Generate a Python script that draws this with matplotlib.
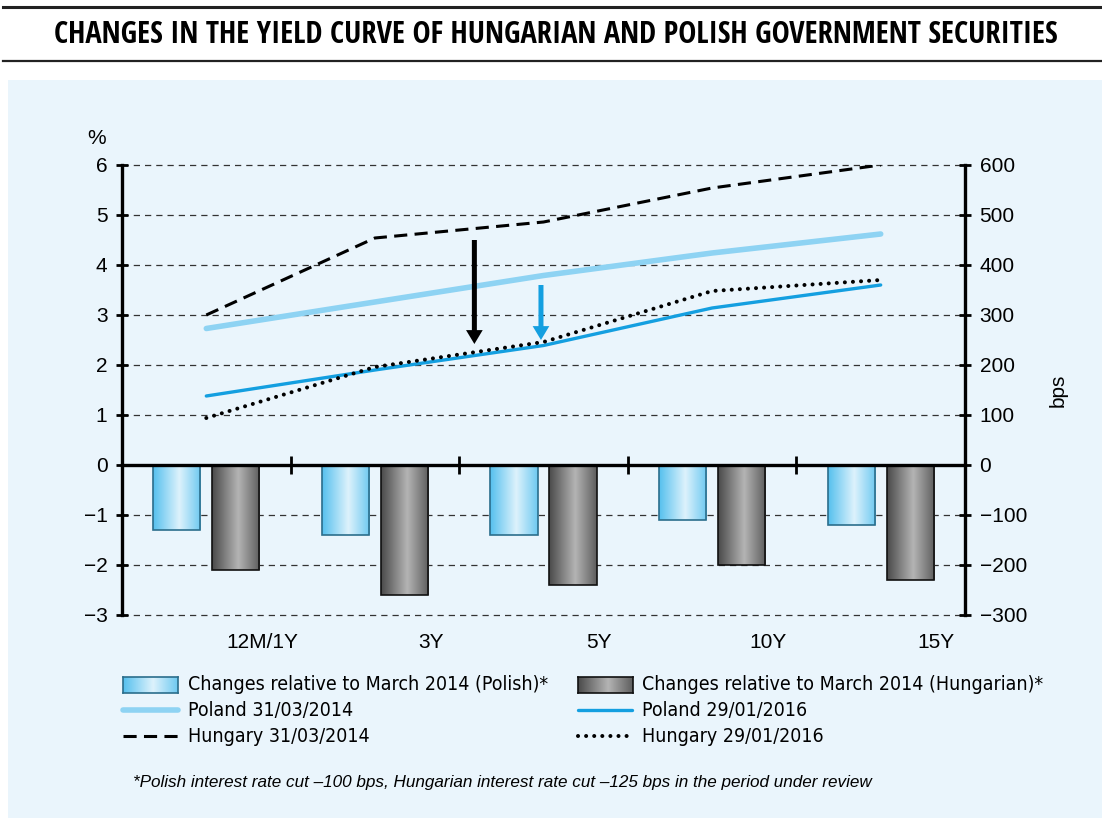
import numpy as np
import matplotlib
matplotlib.use("Agg")
import matplotlib.pyplot as plt
from matplotlib import font_manager
from matplotlib.font_manager import FontProperties
from matplotlib.patches import Rectangle
from matplotlib.lines import Line2D
import matplotlib.transforms as mtransforms

# ---------------- data ----------------
categories = ["12M/1Y", "3Y", "5Y", "10Y", "15Y"]
poland_2014 = [2.73, 3.26, 3.79, 4.24, 4.62]
hungary_2014 = [3.00, 4.54, 4.86, 5.54, 6.00]
poland_2016 = [1.38, 1.90, 2.39, 3.14, 3.60]
hungary_2016 = [0.94, 1.96, 2.46, 3.48, 3.70]
change_polish_bps = [-130, -140, -140, -110, -120]
change_hungarian_bps = [-210, -260, -240, -200, -230]
left_ticks = [-3, -2, -1, 0, 1, 2, 3, 4, 5, 6]
right_ticks = [-300, -200, -100, 0, 100, 200, 300, 400, 500, 600]
# arrows: (x position in category units, start value, end value)
arrow_black = (1.59, 4.50, 2.42)
arrow_blue = (1.985, 3.60, 2.50)

title = "CHANGES IN THE YIELD CURVE OF HUNGARIAN AND POLISH GOVERNMENT SECURITIES"
footnote = "*Polish interest rate cut \u2013100 bps, Hungarian interest rate cut \u2013125 bps in the period under review"

# ---------------- fonts ----------------
REG = "Liberation Sans"
plt.rcParams["font.family"] = [REG, "DejaVu Sans"]


def _w(f):
    return f.weight if isinstance(f.weight, int) else (700 if "bold" in str(f.weight).lower() else 400)


def is_cond(f):
    nm = f.name.lower()
    fn = f.fname.lower()
    return ("narrow" in nm or "condensed" in nm or "condensed" in fn or "narrow" in fn or
            str(f.stretch) in ("condensed", "semi-condensed", "extra-condensed", "ultra-condensed")
            or (isinstance(f.stretch, int) and f.stretch < 500))


def find_condensed(weight="normal", style="normal"):
    best = None
    for f in font_manager.fontManager.ttflist:
        nm = f.name.lower()
        if not is_cond(f) or "mono" in nm or "cjk" in nm:
            continue
        want_w = 700 if weight == "bold" else 400
        score = abs(_w(f) - want_w) + (0 if f.style == style else 1000)
        if best is None or score < best[0]:
            best = (score, f.fname)
    return best[1] if best else None


def fp(size, weight="normal", style="normal"):
    fn = find_condensed(weight, style)
    if fn:
        return FontProperties(fname=fn, size=size)
    return FontProperties(family=REG, size=size * 0.88, weight=weight, style=style)


BG = "#EAF5FC"
C_PL14 = "#8ED3F3"
C_PL16 = "#149FE0"

W, H = 1102, 818
fig = plt.figure(figsize=(W / 100, H / 100), dpi=100)
fig.patch.set_facecolor("white")
renderer = fig.canvas.get_renderer()

# background panel
fig.patches.append(Rectangle((8 / W, 0), 1 - 8 / W, 1 - 80 / H, transform=fig.transFigure,
                             facecolor=BG, edgecolor="none", zorder=-10))
# title rules
fig.add_artist(Line2D([3 / W, 1], [1 - 7 / H] * 2, color="#222222", lw=2.2, transform=fig.transFigure))
fig.add_artist(Line2D([3 / W, 1], [1 - 61 / H] * 2, color="#222222", lw=1.6, transform=fig.transFigure))

# title: pick the narrowest bold sans font available, then fit to the reference width
fams = ("liberation", "noto sans", "roboto", "open sans", "lato", "inter", "dejavu sans")
cands = []
for f in font_manager.fontManager.ttflist:
    nm = f.name.lower()
    if _w(f) >= 600 and f.style == "normal" and any(nm.startswith(k) for k in fams) \
            and "mono" not in nm and "cjk" not in nm and "serif" not in nm.replace("sans serif", ""):
        cands.append(f.fname)
best_fn, best_w = None, None
for fn in set(cands):
    try:
        t = fig.text(0, 0, title, fontproperties=FontProperties(fname=fn, size=22))
        wpx = t.get_window_extent(renderer).width
        t.remove()
    except Exception:
        continue
    if best_w is None or wpx < best_w:
        best_fn, best_w = fn, wpx
if best_fn is not None:
    tsize = min(22.0, 22.0 * 1008.0 / best_w)
    tfp = FontProperties(fname=best_fn, size=tsize)
else:
    tfp = FontProperties(family=REG, size=17.2, weight="bold")
fig.text(556 / W, 1 - 35 / H, title, ha="center", va="center", fontproperties=tfp, color="black")

ax = fig.add_axes([122 / W, 1 - 615 / H, (965 - 122) / W, (615 - 165) / H])
ax.set_facecolor("none")
ax.set_zorder(2)

x = np.arange(len(categories))

# grid
for v in left_ticks:
    if v != 0:
        ax.axhline(v, color="#333333", lw=0.9, ls=(0, (5, 4)), zorder=1, clip_on=False)


def grad_img(cols):
    g = np.linspace(0, 1, 256)
    prof = np.abs(g - 0.55) / 0.55
    cc = np.array([matplotlib.colors.to_rgb(c) for c in cols])
    return (cc[0] * (1 - prof[:, None]) + cc[1] * prof[:, None])[None, :, :]


PL_COLS = ["#DDF2FC", "#55C0EE"]
HU_COLS = ["#B4B4B4", "#4A4A4A"]


def grad_bar(xc, val, width, cols, edge):
    bar = ax.bar(xc, val, width=width, facecolor="none", edgecolor=edge, lw=1.2, zorder=4)[0]
    im = ax.imshow(grad_img(cols), extent=[xc - width / 2, xc + width / 2, val, 0], aspect="auto",
                   zorder=3, interpolation="bilinear")
    im.set_clip_path(bar)


bw = 0.28
for i in x:
    grad_bar(i - 0.175, change_polish_bps[i] / 100, bw, PL_COLS, "#2B6E8C")
    grad_bar(i + 0.175, change_hungarian_bps[i] / 100, bw, HU_COLS, "#111111")
ax.set_xlim(-0.5, 4.5)
ax.set_ylim(-3, 6)

DASH = (0, (4.3, 2.4))
DOT = (0, (0.01, 2.0))

# lines
ax.plot(x, poland_2014, color=C_PL14, lw=4.0, solid_capstyle="round", zorder=5)
ax.plot(x, poland_2016, color=C_PL16, lw=2.4, solid_capstyle="round", zorder=5)
ax.plot(x, hungary_2014, color="black", lw=2.2, ls=DASH, zorder=6)
ax.plot(x, hungary_2016, color="black", lw=2.9, ls=DOT, dash_capstyle="round", zorder=6)

# arrows
for (ax_x, y0, y1), col in [(arrow_black, "black"), (arrow_blue, C_PL16)]:
    ax.annotate("", xy=(ax_x, y1), xytext=(ax_x, y0),
                arrowprops=dict(arrowstyle="simple,head_width=0.6,head_length=0.5,tail_width=0.18",
                                mutation_scale=20, color=col, lw=0, shrinkA=0, shrinkB=0), zorder=7)

# spines
for s in ["top", "right"]:
    ax.spines[s].set_visible(False)
ax.spines["left"].set_linewidth(2.4)
ax.spines["bottom"].set_position(("data", 0))
ax.spines["bottom"].set_linewidth(2.4)
ax.spines["bottom"].set_zorder(8)
ax.set_xticks([0.5, 1.5, 2.5, 3.5])
ax.set_xticklabels([])
ax.tick_params(axis="x", direction="inout", length=13, width=2)
ax.set_yticks(left_ticks)
ax.set_yticklabels([str(v).replace("-", "\u2212") for v in left_ticks])
ax.tick_params(axis="y", direction="inout", length=9, width=2, labelsize=15, pad=6)

# category labels
trans = mtransforms.blended_transform_factory(ax.transData, ax.transAxes)
for i, c in enumerate(categories):
    ax.text(i + 0.33, -0.04, c, transform=trans, ha="center", va="top", fontsize=15)

ax.text(-0.03, 1.06, "%", transform=ax.transAxes, ha="center", va="center", fontsize=15)

ax2 = ax.twinx()
ax2.set_ylim(-300, 600)
ax2.set_yticks(right_ticks)
ax2.set_yticklabels([str(v).replace("-", "\u2212") for v in right_ticks])
for s in ["top", "left", "bottom"]:
    ax2.spines[s].set_visible(False)
ax2.spines["right"].set_linewidth(2.4)
ax2.tick_params(axis="y", direction="inout", length=9, width=2, labelsize=15, pad=6)
ax2.set_ylabel("bps", fontsize=15, labelpad=16)


# legend (manual)
def ly(y):
    return 1 - y / H


lfp = fp(14)
lf = dict(fontproperties=lfp, va="center", ha="left")
rows = [685, 710, 736]
for (x0, cols, edge) in [(123, PL_COLS, "#2B6E8C"), (578, HU_COLS, "#111111")]:
    lax = fig.add_axes([x0 / W, ly(rows[0] + 8), 55 / W, 16 / H])
    lax.imshow(grad_img(cols), aspect="auto", extent=[0, 1, 0, 1], interpolation="bilinear")
    lax.set_xticks([]); lax.set_yticks([])
    for s in lax.spines.values():
        s.set_color(edge); s.set_linewidth(1.2)

fig.text(188 / W, ly(rows[0]), "Changes relative to March 2014 (Polish)*", **lf)
fig.text(642 / W, ly(rows[0]), "Changes relative to March 2014 (Hungarian)*", **lf)
fig.add_artist(Line2D([123 / W, 178 / W], [ly(rows[1])] * 2, color=C_PL14, lw=4.0,
                      solid_capstyle="round", transform=fig.transFigure))
fig.text(188 / W, ly(rows[1]), "Poland 31/03/2014", **lf)
fig.add_artist(Line2D([578 / W, 632 / W], [ly(rows[1])] * 2, color=C_PL16, lw=2.4,
                      solid_capstyle="round", transform=fig.transFigure))
fig.text(642 / W, ly(rows[1]), "Poland 29/01/2016", **lf)
fig.add_artist(Line2D([123 / W, 178 / W], [ly(rows[2])] * 2, color="black", lw=2.2,
                      ls=DASH, transform=fig.transFigure))
fig.text(188 / W, ly(rows[2]), "Hungary 31/03/2014", **lf)
fig.add_artist(Line2D([578 / W, 632 / W], [ly(rows[2])] * 2, color="black", lw=2.9,
                      ls=DOT, dash_capstyle="round", transform=fig.transFigure))
fig.text(642 / W, ly(rows[2]), "Hungary 29/01/2016", **lf)

fig.text(133 / W, ly(783), footnote, family=REG, style="italic", fontsize=12.3,
         va="center", ha="left")

fig.savefig("out.png", dpi=100, facecolor=fig.get_facecolor())
